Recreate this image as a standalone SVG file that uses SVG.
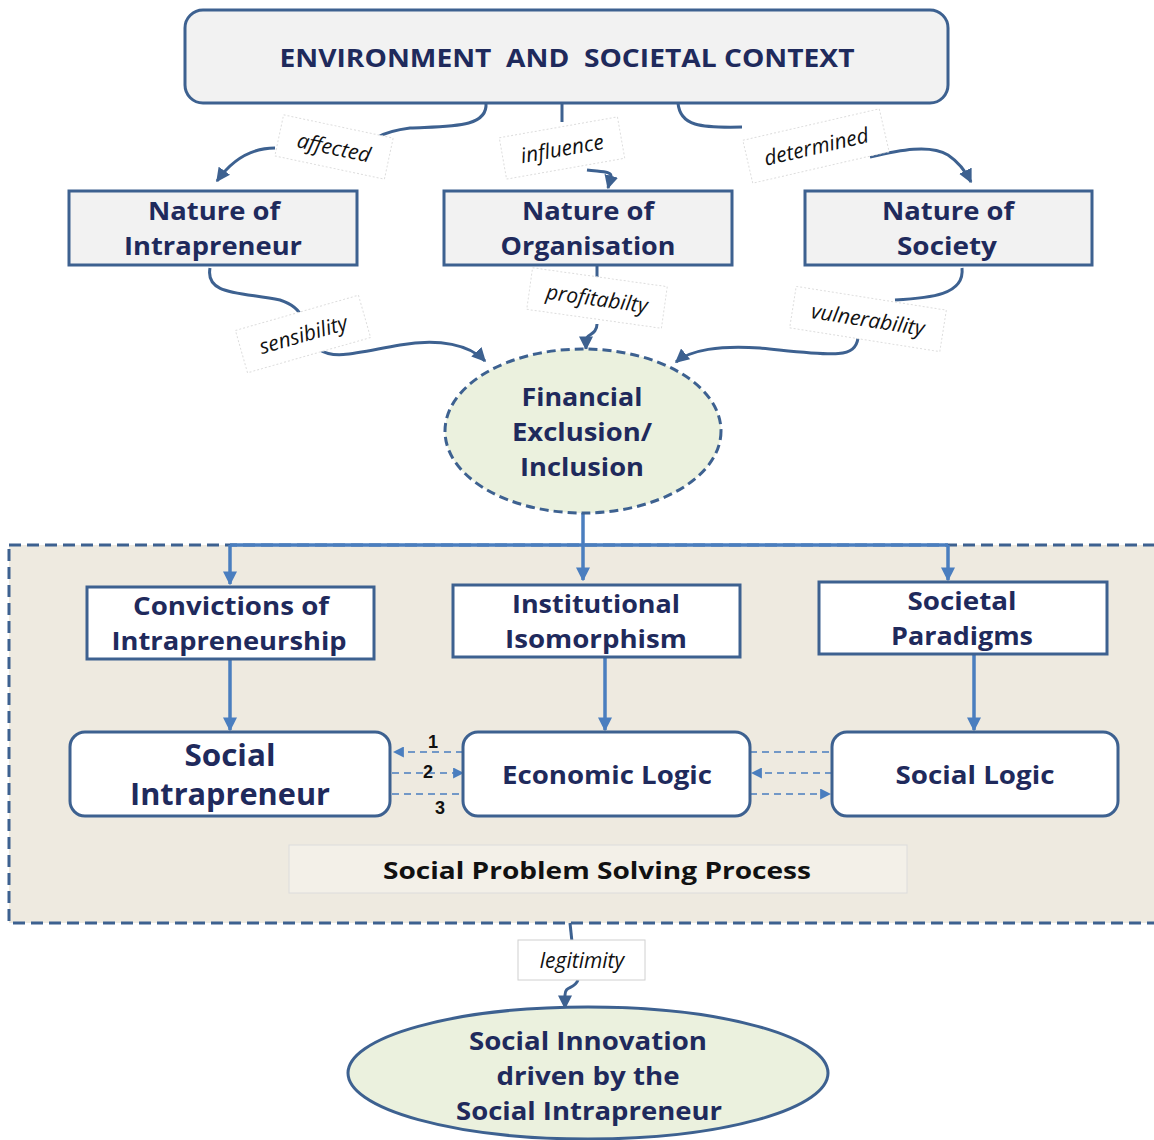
<svg xmlns="http://www.w3.org/2000/svg" width="1154" height="1140" viewBox="0 0 1154 1140">
<defs>
<marker id="ad" viewBox="0 0 10 10" refX="9" refY="5" markerWidth="14" markerHeight="14" markerUnits="userSpaceOnUse" orient="auto"><path d="M0,0 L10,5 L0,10 z" fill="#3d6190"/></marker>
<marker id="ab" viewBox="0 0 10 10" refX="9" refY="5" markerWidth="14" markerHeight="14" markerUnits="userSpaceOnUse" orient="auto"><path d="M0,0 L10,5 L0,10 z" fill="#4a7ebf"/></marker>
<marker id="as" viewBox="0 0 10 10" refX="9" refY="5" markerWidth="11" markerHeight="11" markerUnits="userSpaceOnUse" orient="auto"><path d="M0,0 L10,5 L0,10 z" fill="#4a7ebf"/></marker>
<style>
.t{font-family:"Open Sans","Liberation Sans",sans-serif;font-weight:bold;fill:#1f2a5c;text-anchor:middle;dominant-baseline:central}
.gb{fill:#f2f2f2;stroke:#3d6190;stroke-width:3}
.wb{fill:#ffffff;stroke:#3d6190;stroke-width:3}
.cv{fill:none;stroke:#3d6190;stroke-width:3}
.bl{fill:none;stroke:#4a7ebf;stroke-width:3.5}
.ds{fill:none;stroke:#4a7ebf;stroke-width:1.6;stroke-dasharray:7,5}
.lb{fill:#ffffff;stroke:#dddddd;stroke-width:1;stroke-dasharray:2,2}
.it{font-family:"Open Sans","Liberation Sans",sans-serif;font-style:italic;font-size:21px;fill:#111;text-anchor:middle;dominant-baseline:central}
.num{font-family:"Liberation Sans",sans-serif;font-weight:bold;font-size:18px;fill:#111;text-anchor:middle;dominant-baseline:central}
</style>
</defs>
<rect width="1154" height="1140" fill="#ffffff"/>

<g id="process-area">
<rect x="9" y="545" width="1160" height="378" fill="#eeeae0" stroke="#3d6190" stroke-width="3" stroke-dasharray="12,6"/>
</g>

<g id="connectors">
<path class="cv" d="M486,103 C488,128 450,126 410,128 C395,130 385,133 378,137"/>
<path class="cv" d="M275,148 C250,148 232,160 217,181" marker-end="url(#ad)"/>
<path class="cv" d="M562,103 L562,122"/>
<path class="cv" d="M587,170 C602,172 612,171 611,177 L608,188" marker-end="url(#ad)"/>
<path class="cv" d="M678,103 C680,126 700,128 742,127"/>
<path class="cv" d="M870,157 C900,150 930,144 948,155 C960,163 966,172 971,182" marker-end="url(#ad)"/>
<path class="cv" d="M210,268 C205,295 240,292 280,300 C295,305 300,312 302,318"/>
<path class="cv" d="M320,350 C335,360 360,352 400,345 C440,338 470,345 485,361" marker-end="url(#ad)"/>
<path class="cv" d="M597,265 L597,280"/>
<path class="cv" d="M597,324 C597,335 586,334 586,340 L586,349" marker-end="url(#ad)"/>
<path class="cv" d="M962,268 C965,295 930,298 895,300"/>
<path class="cv" d="M858,338 C855,360 830,355 760,348 C720,345 690,350 676,362" marker-end="url(#ad)"/>
<path class="bl" d="M583,513 L583,580" marker-end="url(#ab)"/>
<path class="bl" d="M230,545 L948,545"/>
<path class="bl" d="M230,545 L230,584" marker-end="url(#ab)"/>
<path class="bl" d="M948,545 L948,580" marker-end="url(#ab)"/>
<path class="bl" d="M230,659 L230,730" marker-end="url(#ab)"/>
<path class="bl" d="M605,657 L605,730" marker-end="url(#ab)"/>
<path class="bl" d="M974,654 L974,730" marker-end="url(#ab)"/>
<path class="ds" d="M463,752 L394,752" marker-end="url(#as)"/>
<path class="ds" d="M392,773 L463,773" marker-end="url(#as)"/>
<path class="ds" d="M392,794 L463,794"/>
<path class="ds" d="M750,752 L832,752"/>
<path class="ds" d="M832,773 L752,773" marker-end="url(#as)"/>
<path class="ds" d="M750,794 L830,794" marker-end="url(#as)"/>
<path class="cv" d="M570,923 L572,942"/>
<path class="cv" d="M578,980 C574,990 565,985 565,995 L565,1008" marker-end="url(#ad)"/>
<text class="num" x="433" y="742">1</text>
<text class="num" x="428" y="772">2</text>
<text class="num" x="440" y="808">3</text>
</g>

<g id="labels">
<g transform="translate(334,147) rotate(12)"><rect class="lb" x="-56" y="-21" width="112" height="42"/><text class="it" x="0" y="0">affected</text></g>
<g transform="translate(562,148) rotate(-10)"><rect class="lb" x="-60" y="-21" width="120" height="42"/><text class="it" x="0" y="0">influence</text></g>
<g transform="translate(816,146) rotate(-13)"><rect class="lb" x="-70" y="-22" width="140" height="44"/><text class="it" x="0" y="0">determined</text></g>
<g transform="translate(303,334) rotate(-16)"><rect class="lb" x="-64" y="-22" width="128" height="44"/><text class="it" x="0" y="0">sensibility</text></g>
<g transform="translate(597,298) rotate(8)"><rect class="lb" x="-68" y="-21" width="136" height="42"/><text class="it" x="0" y="0">profitabilty</text></g>
<g transform="translate(868,319) rotate(9)"><rect class="lb" x="-76" y="-21" width="152" height="42"/><text class="it" x="0" y="0">vulnerability</text></g>
<g><rect x="518" y="940" width="127" height="40" fill="#ffffff" stroke="#d0d0d0" stroke-width="1"/><text class="it" x="582" y="960">legitimity</text></g>
</g>

<g id="env">
<rect class="gb" x="185" y="10" width="763" height="93" rx="18"/>
<text class="t" x="567" y="57" font-size="25" textLength="575" lengthAdjust="spacingAndGlyphs" xml:space="preserve">ENVIRONMENT  AND  SOCIETAL CONTEXT</text>
</g>

<g id="nature-intrapreneur">
<rect class="gb" x="69" y="191" width="288" height="74"/>
<text class="t" x="214" y="210" font-size="25" textLength="132" lengthAdjust="spacingAndGlyphs">Nature of</text>
<text class="t" x="213" y="245" font-size="25" textLength="178" lengthAdjust="spacingAndGlyphs">Intrapreneur</text>
</g>
<g id="nature-organisation">
<rect class="gb" x="444" y="191" width="288" height="74"/>
<text class="t" x="588" y="210" font-size="25" textLength="132" lengthAdjust="spacingAndGlyphs">Nature of</text>
<text class="t" x="588" y="245" font-size="25" textLength="175" lengthAdjust="spacingAndGlyphs">Organisation</text>
</g>
<g id="nature-society">
<rect class="gb" x="805" y="191" width="287" height="74"/>
<text class="t" x="948" y="210" font-size="25" textLength="132" lengthAdjust="spacingAndGlyphs">Nature of</text>
<text class="t" x="947" y="245" font-size="25" textLength="100" lengthAdjust="spacingAndGlyphs">Society</text>
</g>

<g id="financial">
<ellipse cx="583" cy="431" rx="138" ry="82" fill="#ebf1de" stroke="#3d6190" stroke-width="3" stroke-dasharray="9,5"/>
<text class="t" x="582" y="396" font-size="25" textLength="121" lengthAdjust="spacingAndGlyphs">Financial</text>
<text class="t" x="582" y="431" font-size="25" textLength="140" lengthAdjust="spacingAndGlyphs">Exclusion/</text>
<text class="t" x="582" y="466" font-size="25" textLength="124" lengthAdjust="spacingAndGlyphs">Inclusion</text>
</g>

<g id="convictions">
<rect class="wb" x="87" y="587" width="287" height="72"/>
<text class="t" x="231" y="605" font-size="25" textLength="196" lengthAdjust="spacingAndGlyphs">Convictions of</text>
<text class="t" x="229" y="640" font-size="25" textLength="235" lengthAdjust="spacingAndGlyphs">Intrapreneurship</text>
</g>
<g id="isomorphism">
<rect class="wb" x="453" y="585" width="287" height="72"/>
<text class="t" x="596" y="603" font-size="25" textLength="168" lengthAdjust="spacingAndGlyphs">Institutional</text>
<text class="t" x="596" y="638" font-size="25" textLength="182" lengthAdjust="spacingAndGlyphs">Isomorphism</text>
</g>
<g id="paradigms">
<rect class="wb" x="819" y="582" width="288" height="72"/>
<text class="t" x="962" y="600" font-size="25" textLength="109" lengthAdjust="spacingAndGlyphs">Societal</text>
<text class="t" x="962" y="635" font-size="25" textLength="142" lengthAdjust="spacingAndGlyphs">Paradigms</text>
</g>

<g id="social-intrapreneur">
<rect class="wb" x="70" y="732" width="320" height="84" rx="15"/>
<text class="t" x="230" y="754" font-size="30" textLength="91" lengthAdjust="spacingAndGlyphs">Social</text>
<text class="t" x="230" y="793" font-size="30" textLength="200" lengthAdjust="spacingAndGlyphs">Intrapreneur</text>
</g>
<g id="economic-logic">
<rect class="wb" x="463" y="732" width="287" height="84" rx="15"/>
<text class="t" x="607" y="774" font-size="25" textLength="210" lengthAdjust="spacingAndGlyphs">Economic Logic</text>
</g>
<g id="social-logic">
<rect class="wb" x="832" y="732" width="286" height="84" rx="15"/>
<text class="t" x="975" y="774" font-size="25" textLength="159" lengthAdjust="spacingAndGlyphs">Social Logic</text>
</g>

<g id="process-label">
<rect x="289" y="845" width="618" height="48" fill="#f3f0e8" stroke="#dcdcdc" stroke-width="1"/>
<text class="t" x="597" y="869" font-size="24" style="fill:#111" textLength="428" lengthAdjust="spacingAndGlyphs">Social Problem Solving Process</text>
</g>

<g id="social-innovation">
<ellipse cx="588" cy="1073" rx="240" ry="66" fill="#ebf1de" stroke="#3d6190" stroke-width="3"/>
<text class="t" x="588" y="1040" font-size="25" textLength="238" lengthAdjust="spacingAndGlyphs">Social Innovation</text>
<text class="t" x="588" y="1075" font-size="25" textLength="183" lengthAdjust="spacingAndGlyphs">driven by the</text>
<text class="t" x="589" y="1110" font-size="25" textLength="266" lengthAdjust="spacingAndGlyphs">Social Intrapreneur</text>
</g>
</svg>
